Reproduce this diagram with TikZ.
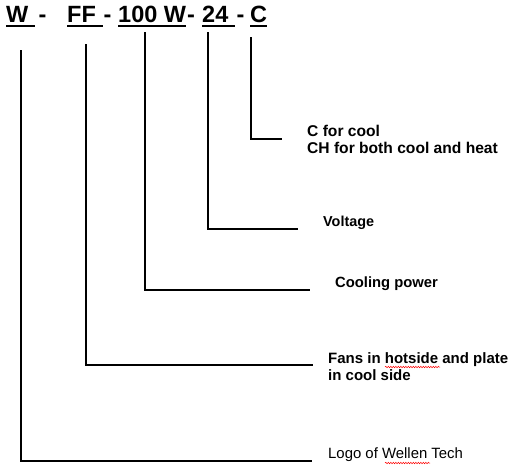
\documentclass[tikz,border=0pt]{standalone}
\usepackage{fontspec}
\setmainfont{Liberation Sans}
\usetikzlibrary{decorations.pathmorphing}
\tikzset{
  code/.style={font=\fontsize{23.5}{28}\selectfont\bfseries, inner sep=0, anchor=base west},
  label/.style={font=\fontsize{14.8}{17.4}\selectfont\bfseries, inner sep=0, anchor=base west, align=left},
  lead/.style={line width=1.2pt},
  squiggle/.style={red, line width=0.5pt, decorate, decoration={snake, amplitude=0.7pt, segment length=2.5pt}}
}
\begin{document}
\begin{tikzpicture}[x=1pt, y=-1pt]
\useasboundingbox (0,0) rectangle (527,469);
\node[code] (cw) at (6,22) {W\kern.278em};
\node[code] (d1) at (38.5,22) {-};
\node[code] (cff) at (67,22) {FF\kern.278em};
\node[code] (d2) at (103.5,22) {-};
\node[code] (cpow) at (118,22) {100 W};
\node[code] (d3) at (187,22) {-};
\node[code] (cvolt) at (202,22) {24\kern.278em};
\node[code] (d4) at (236.5,22) {-};
\node[code] (cmode) at (250,22) {C};
\foreach \n in {cw,cff,cpow,cvolt,cmode}
  \draw[line width=2pt] ([yshift=-3.7pt]\n.base west) -- ([yshift=-3.7pt]\n.base east);
\node[label, font=\fontsize{15.6}{16.6}\selectfont\bfseries] (lmode) at (307,153.5) {C for cool\\CH for both cool and heat};
\node[label, font=\fontsize{14.4}{17}\selectfont\bfseries] (lvolt) at (323,226.7) {Voltage};
\node[label] (lpow) at (335,287.3) {Cooling power};
\node[label, font=\fontsize{15}{17.4}\selectfont\bfseries] (lfan) at (328,380.8) {Fans in hotside and plate\\in cool side};
\node[label, font=\fontsize{14.9}{17.4}\selectfont] (llogo) at (328,458.3) {Logo of Wellen Tech};
\coordinate (wtop) at (21,50);    \coordinate (wend) at (312,461);
\coordinate (fftop) at (86,44);   \coordinate (ffend) at (313,365);
\coordinate (powtop) at (145,32); \coordinate (powend) at (310,290);
\coordinate (volttop) at (208,32);\coordinate (voltend) at (298,229);
\coordinate (modetop) at (251,37);\coordinate (modeend) at (282,139);
\draw[line width=2pt] (wtop) |- (wend);
\draw[lead] (fftop) |- (ffend);
\draw[lead] (powtop) |- (powend);
\draw[lead] (volttop) |- (voltend);
\draw[lead] (modetop) |- (modeend);
\draw[squiggle] (385,367) -- (440,367);
\draw[squiggle] (385,463) -- (430,463);
\end{tikzpicture}
\end{document}
